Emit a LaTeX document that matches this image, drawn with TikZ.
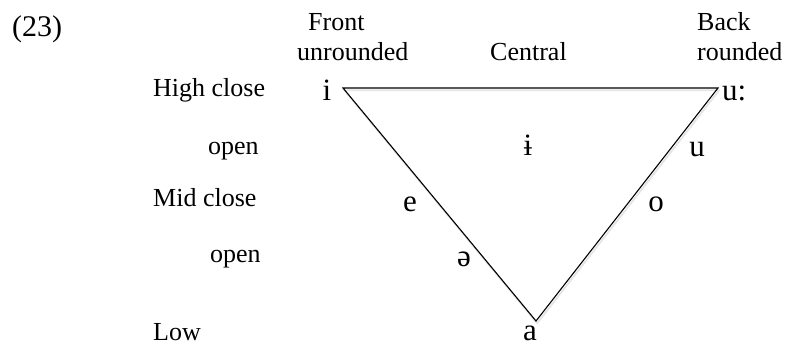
\documentclass[tikz,border=0pt]{standalone}
\usepackage{fontspec}
\setmainfont{Liberation Serif}
\usetikzlibrary{calc}
\begin{document}
\begin{tikzpicture}[x=1pt,y=-1pt,
  lbl/.style={inner sep=0pt,anchor=base west,font=\fontsize{26}{31}\selectfont},
  vowel/.style={inner sep=0pt,anchor=base,font=\fontsize{31}{36}\selectfont},
  edge/.style={line width=1.1pt,line join=miter},
  shade/.style={line width=1.8pt,draw=black!10,line join=round}]
\useasboundingbox (0,0) rectangle (787,347);

% example number
\node[lbl,font=\fontsize{30}{36}\selectfont] (num) at (12,37) {(23)};

% height labels
\node[lbl] (hc) at (153,97) {High close};
\node[lbl] (ho) at (208,155) {open};
\node[lbl] (mc) at (153,207) {Mid close};
\node[lbl] (mo) at (210,263) {open};
\node[lbl] (lo) at (153,341) {Low};

% backness labels
\node[lbl] (fr1) at (308,31) {Front};
\node[lbl] (fr2) at (297,61) {unrounded};
\node[lbl] (ce)  at (490,61) {Central};
\node[lbl] (bk1) at (697,31) {Back};
\node[lbl] (bk2) at (697,61) {rounded};

% vowel triangle with a soft shadow
\coordinate (tl) at (343,88);
\coordinate (tr) at (718,88);
\coordinate (bt) at (536,321);
\draw[shade] ($(tl)+(1.2,2.2)$) -- ($(tr)+(1.2,2.2)$) -- ($(bt)+(1.2,2.2)$) -- cycle;
\draw[edge] (tl) -- (tr) -- (bt) -- cycle;

% vowels
\node[vowel] (vi)  at (327,101) {i};
\node[vowel,anchor=base west] (vuu) at (722,101) {u:};
\node[vowel] (vbi) at (528,156) {ɨ};
\node[vowel] (vu)  at (697,157) {u};
\node[vowel] (ve)  at (410,212) {e};
\node[vowel] (vo)  at (656,212) {o};
\node[vowel] (vsc) at (464,267) {ə};
\node[vowel] (va)  at (530,340) {a};
\end{tikzpicture}
\end{document}
